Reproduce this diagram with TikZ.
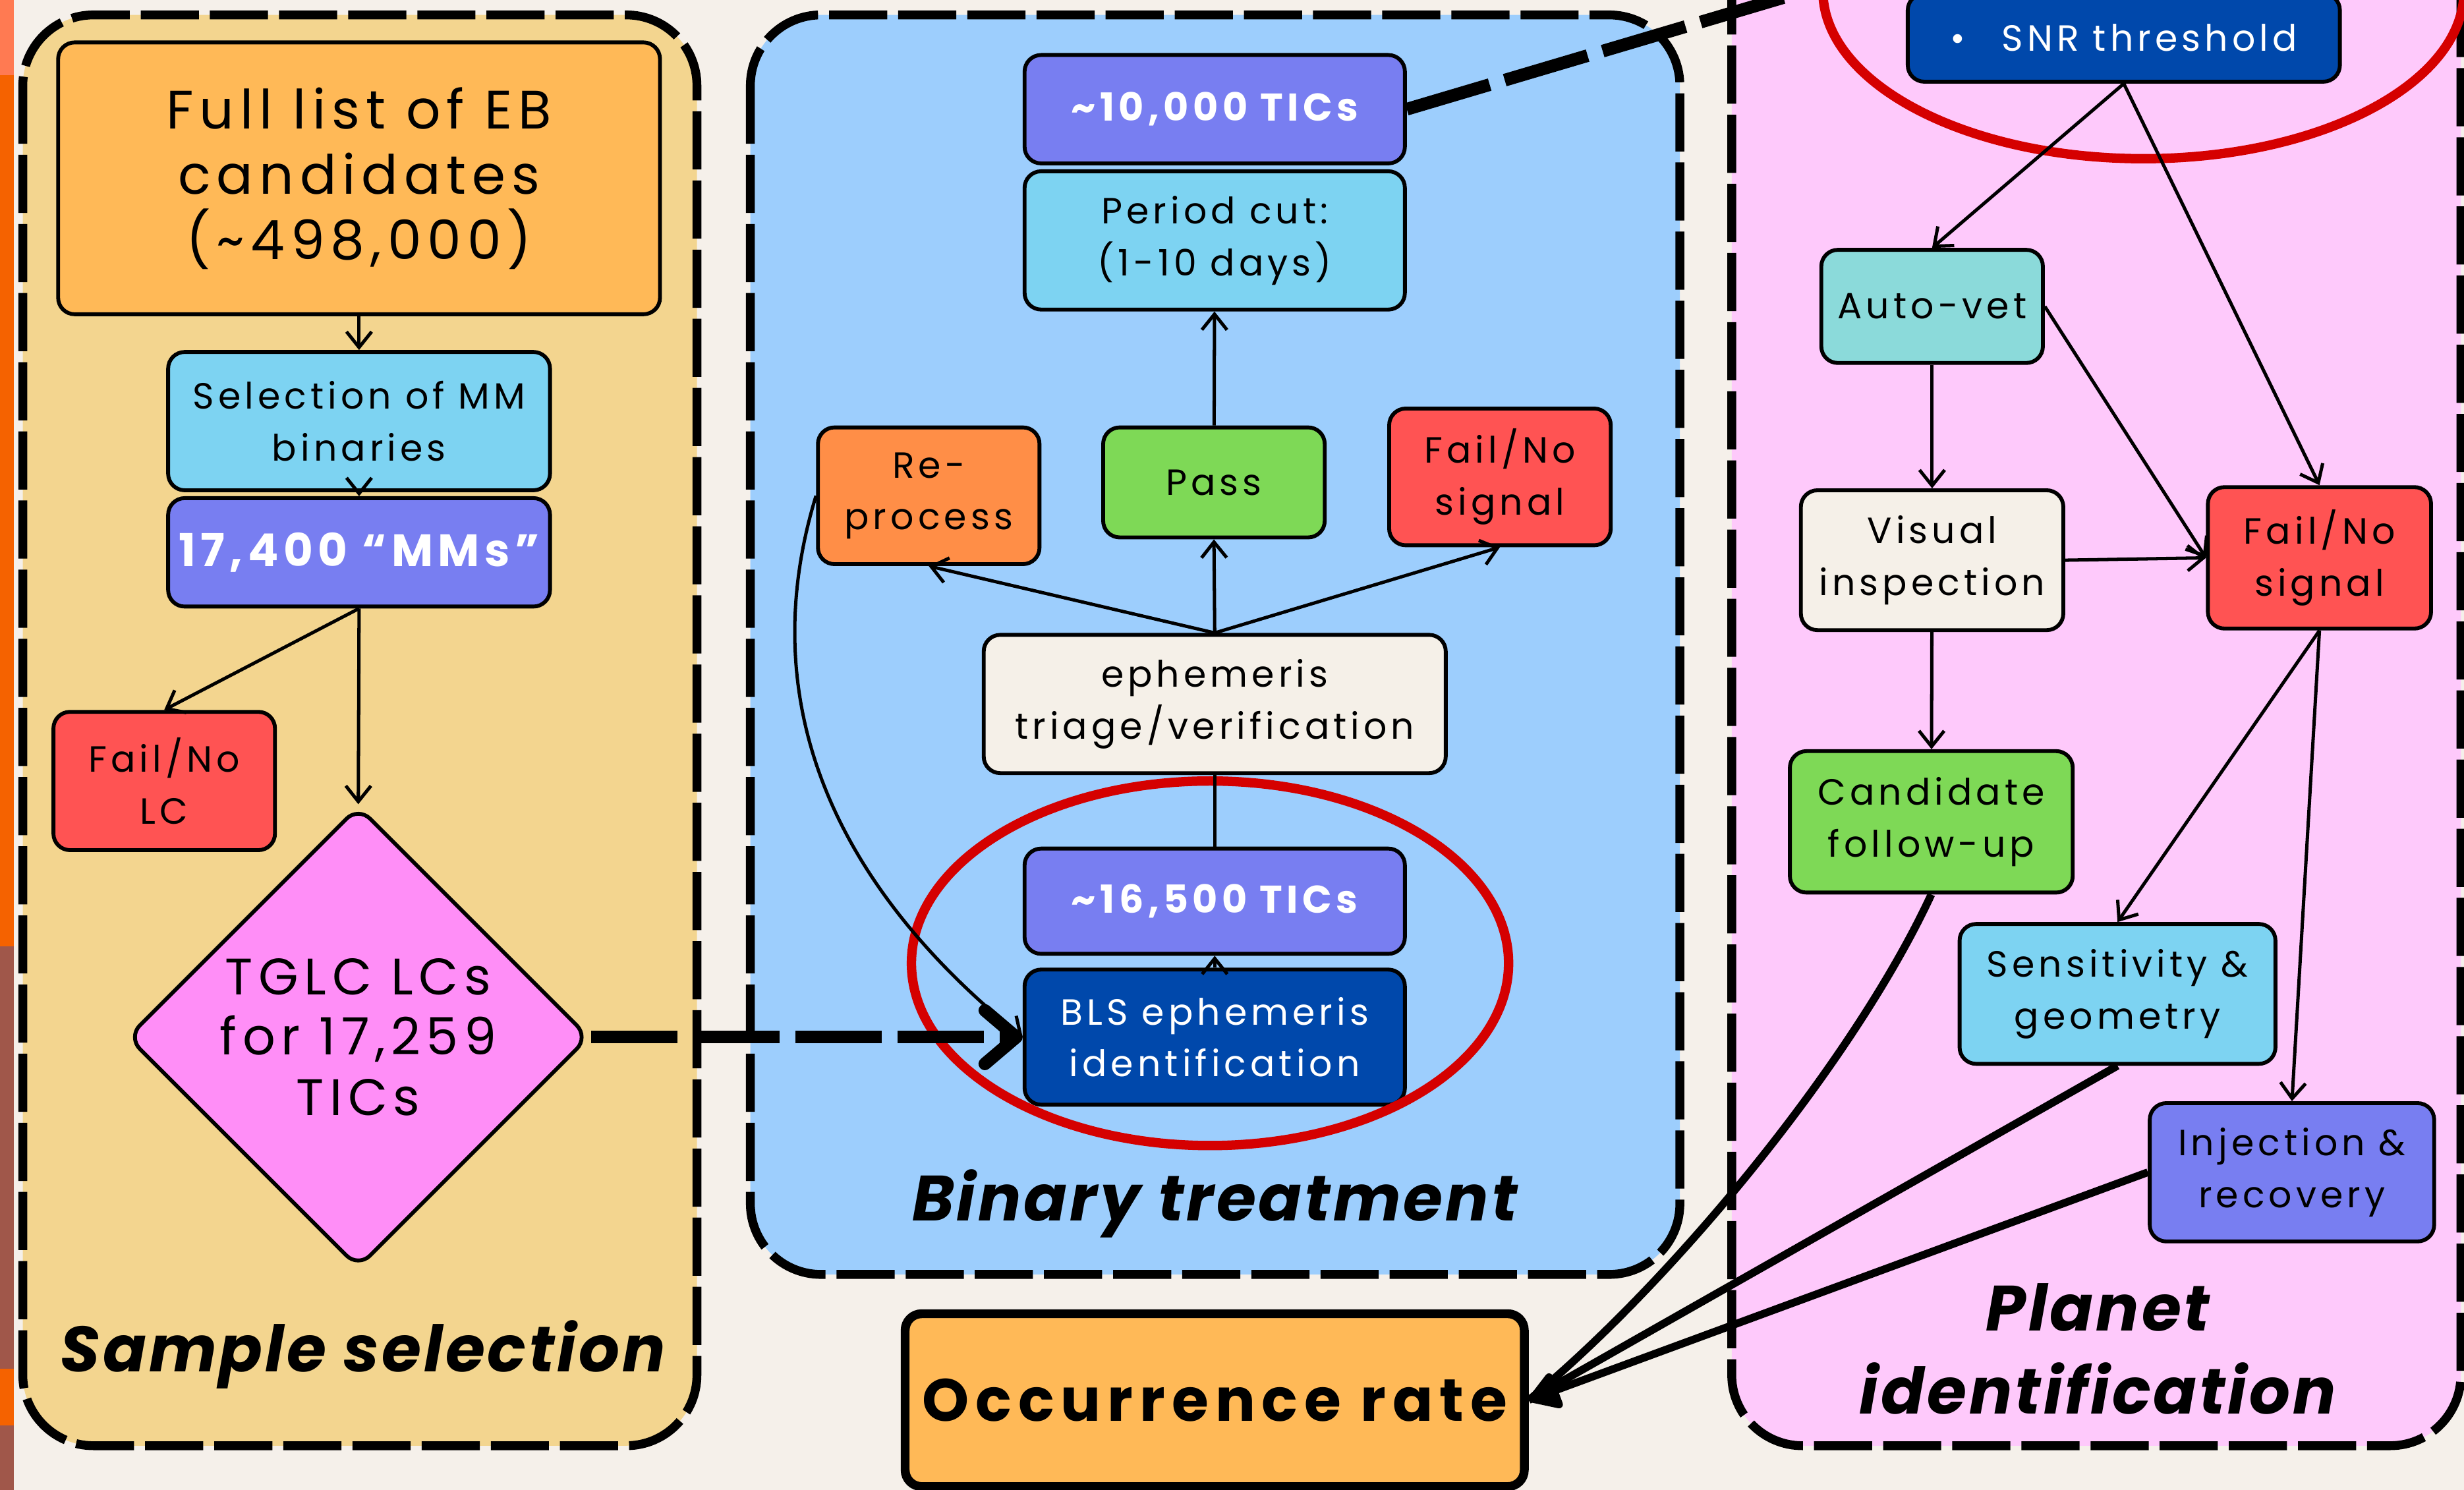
\documentclass[tikz,border=0pt]{standalone}
\usepackage{fontspec}
\setmainfont{Poppins}
\newfontfamily\boxfont{Poppins}[LetterSpace=11]
\newfontfamily\headfont{Poppins}[LetterSpace=4]
\usetikzlibrary{shapes.geometric,arrows.meta}

\definecolor{paper}{HTML}{F5F0EA}
\definecolor{stripa}{HTML}{FF7A52}
\definecolor{stripb}{HTML}{F56200}
\definecolor{stripc}{HTML}{A0574A}
\definecolor{selyellow}{HTML}{F3D58F}
\definecolor{binblue}{HTML}{9DCEFD}
\definecolor{planpink}{HTML}{FEC9FB}
\definecolor{boxorange}{HTML}{FFB957}
\definecolor{boxcyan}{HTML}{7DD3F2}
\definecolor{boxviolet}{HTML}{787EF1}
\definecolor{boxred}{HTML}{FF5353}
\definecolor{diapink}{HTML}{FF8EF7}
\definecolor{reorange}{HTML}{FF8E47}
\definecolor{boxgreen}{HTML}{7ED956}
\definecolor{boxcream}{HTML}{F5F0E8}
\definecolor{boxnavy}{HTML}{0048AB}
\definecolor{boxteal}{HTML}{8BDADA}
\definecolor{ringred}{HTML}{D50000}

\begin{document}
\begin{tikzpicture}[
            panel/.style={
                draw=black,
                line width=1.6pt,
                dash pattern=on 0.37cm off 0.07cm,
                rounded corners=0.45cm
            },
            box/.style={
                rectangle,
                draw=black,
                line width=0.7pt,
                rounded corners=3pt,
                inner sep=0pt,
                align=center,
                font=\boxfont\fontsize{6.6}{9.4}\selectfont
            },
            wide/.style={
                box,
                minimum width=2.42cm,
                minimum height=0.69cm
            },
            small/.style={
                box,
                minimum width=1.41cm,
                minimum height=0.87cm
            },
            tally/.style={
                fill=boxviolet,
                text=white,
                font=\boxfont\bfseries\fontsize{7}{9}\selectfont
            },
            paneltitle/.style={
                align=center,
                font=\headfont\bfseries\itshape\fontsize{11.6}{15}\selectfont
            },
            flow/.style={
                line width=0.6pt,
                -{Straight Barb[length=1mm,width=1.6mm]}
            },
            leap/.style={
                line width=2.3pt,
                dash pattern=on 0.55cm off 0.1cm
            },
            feed/.style={
                line width=1.4pt
            },
            ring/.style={
                draw=ringred,
                line width=1.7pt
            }
        ]
        \useasboundingbox (0,0) rectangle (15.68,-9.48);

        % background
        \fill[paper] (0,0) rectangle (15.68,-9.48);
        \fill[stripa] (0,0) rectangle (0.09,-0.48);
        \fill[stripb] (0,-0.48) rectangle (0.09,-6.02);
        \fill[stripc] (0,-6.02) rectangle (0.09,-8.71);
        \fill[stripb] (0,-8.71) rectangle (0.09,-9.07);
        \fill[stripc] (0,-9.07) rectangle (0.09,-9.48);

        % panels
        \draw[panel, fill=selyellow] (0.145,-0.095) rectangle (4.435,-9.20);
        \draw[panel, fill=binblue] (4.775,-0.095) rectangle (10.69,-8.11);
        \draw[panel, fill=planpink] (11.02,0.6) rectangle (15.66,-9.20);

        % sample selection
        \node[box, fill=boxorange, minimum width=3.83cm, minimum height=1.73cm,
            font=\boxfont\fontsize{9.8}{11.8}\selectfont] (full) at (2.285,-1.135)
            {Full list of EB\\candidates\\(\textasciitilde498,000)};
        \node[wide, fill=boxcyan, minimum width=2.43cm, minimum height=0.88cm] (selmm) at (2.285,-2.68) {Selection of MM\\binaries};
        \node[wide, tally, minimum width=2.43cm, font=\boxfont\bfseries\fontsize{8.2}{10}\selectfont] (mms) at (2.285,-3.515) {17,400 “MMs”};
        \node[small, fill=boxred, minimum height=0.88cm] (faillc) at (1.045,-4.97) {Fail/No\\LC};
        \node[box, diamond, fill=diapink, minimum width=2.94cm, minimum height=2.94cm, inner sep=-5pt,
            font=\boxfont\fontsize{9.3}{10.9}\selectfont] (tglc) at (2.28,-6.60) {TGLC LCs\\for 17,259\\TICs};
        \node[paneltitle] (selname) at (2.31,-8.62) {Sample selection};

        % binary treatment
        \node[wide, tally] (tenk) at (7.73,-0.695) {\textasciitilde10,000 TICs};
        \node[wide, fill=boxcyan, minimum height=0.88cm] (period) at (7.73,-1.53) {Period cut:\\(1-10 days)};
        \node[small, fill=reorange] (reproc) at (5.91,-3.155) {Re-\\process};
        \node[small, fill=boxgreen, minimum height=0.70cm] (pass) at (7.725,-3.07) {Pass};
        \node[small, fill=boxred] (failbin) at (9.545,-3.035) {Fail/No\\signal};
        \node[box, fill=boxcream, minimum width=2.94cm, minimum height=0.88cm] (triage) at (7.73,-4.48) {ephemeris\\triage/verification};
        \node[wide, tally, minimum height=0.67cm] (sixteenk) at (7.73,-5.735) {\textasciitilde16,500 TICs};
        \node[wide, fill=boxnavy, text=white, minimum height=0.86cm] (bls) at (7.73,-6.60) {BLS ephemeris\\identification};
        \node[paneltitle] (binname) at (7.73,-7.66) {Binary treatment};

        % planet identification
        \node[box, fill=boxnavy, text=white, minimum width=2.75cm, minimum height=0.56cm] (snr) at (13.515,-0.24) {\textbullet\quad SNR threshold};
        \coordinate (snrin) at (12.14,0.25);
        \node[small, fill=boxteal, minimum height=0.72cm] (autovet) at (12.295,-1.95) {Auto-vet};
        \node[box, fill=boxcream, minimum width=1.67cm, minimum height=0.89cm] (visual) at (12.295,-3.565) {Visual\\inspection};
        \node[small, fill=boxred, minimum width=1.42cm, minimum height=0.90cm] (failpl) at (14.76,-3.55) {Fail/No\\signal};
        \node[box, fill=boxgreen, minimum width=1.80cm, minimum height=0.90cm] (cand) at (12.29,-5.23) {Candidate\\follow-up};
        \node[box, fill=boxcyan, minimum width=2.01cm, minimum height=0.89cm] (sens) at (13.475,-6.325) {Sensitivity \&\\geometry};
        \node[box, fill=boxviolet, minimum width=1.81cm, minimum height=0.88cm] (inj) at (14.585,-7.46) {Injection \&\\recovery};
        \node[paneltitle] (planname) at (13.35,-8.585) {Planet\\identification};

        % result
        \node[box, fill=boxorange, line width=1.6pt, minimum width=3.94cm, minimum height=1.10cm,
            font=\boxfont\bfseries\fontsize{10.8}{13}\selectfont] (occ) at (7.73,-8.91) {Occurrence rate};

        % circles
        \draw[ring] (7.70,-6.13) ellipse [x radius=1.90, y radius=1.16];
        \draw[ring] (13.64,0.06) ellipse [x radius=2.04, y radius=1.07];

        % lines
        \draw[flow] (full) -- (selmm);
        \draw[flow] (selmm) -- (mms);
        \draw[flow] (mms.south) -- (faillc.north);
        \draw[flow] (mms.south) -- (tglc.north);
        \draw[leap, -{Straight Barb[length=2mm,width=3.4mm,round]}] (tglc.east) -- (bls.west);

        \draw[flow] (triage.north) -- (reproc.south);
        \draw[flow] (triage.north) -- (pass.south);
        \draw[flow] (triage.north) -- (failbin.south);
        \draw[flow] (pass) -- (period);
        \draw[line width=0.6pt] (triage) -- (sixteenk);
        \draw[flow] (bls) -- (sixteenk);
        \draw[flow] (reproc.west) .. controls (4.75,-4.6) and (5.45,-5.75) .. (bls.west);
        \draw[leap] (tenk.east) -- (snrin);

        \draw[flow] (snr.south) -- (autovet.north);
        \draw[flow] (snr.south) -- (failpl.north);
        \draw[flow] (autovet.east) -- (failpl.west);
        \draw[flow] (visual.east) -- (failpl.west);
        \draw[flow] (autovet) -- (visual);
        \draw[flow] (visual) -- (cand);
        \draw[flow] (failpl.south) -- (sens.north);
        \draw[flow] (failpl.south) -- (inj.north);

        \draw[feed] (cand.south) .. controls (11.80,-6.75) and (10.65,-8.15) .. (occ.east);
        \draw[feed] (sens.south) -- (occ.east);
        \draw[feed, -{Triangle[length=2.2mm,width=2.6mm,round]}] (inj.west) -- (occ.east);
    \end{tikzpicture}
\end{document}
